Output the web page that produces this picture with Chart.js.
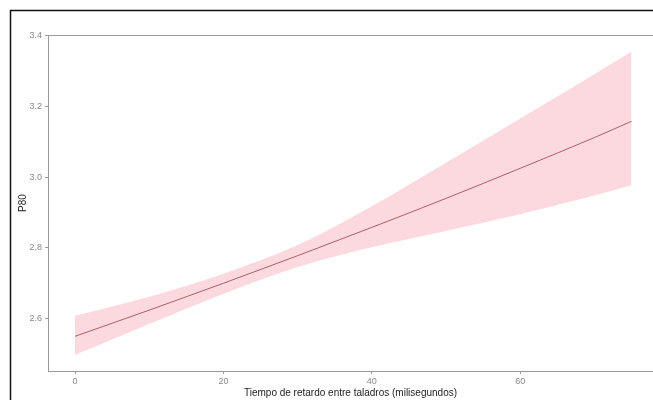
<!DOCTYPE html>
<html>
<head>
<meta charset="utf-8">
<script src="https://cdn.jsdelivr.net/npm/chart.js@4.4.1/dist/chart.umd.min.js"></script>
<style>
  html, body { margin: 0; padding: 0; background: #fff; overflow: hidden; }
  #wrap { position: relative; width: 653px; height: 400px; }
</style>
</head>
<body>
<div id="wrap"><canvas id="p80Chart" width="653" height="400"></canvas></div>
<script>
// valores
const retardo = [0, 10, 20, 30, 40, 50, 60, 70, 75];
const p80Ajuste = [2.550, 2.624, 2.700, 2.778, 2.858, 2.940, 3.025, 3.112, 3.158];
const p80Superior = [2.608, 2.662, 2.727, 2.808, 2.918, 3.041, 3.166, 3.291, 3.355];
const p80Inferior = [2.497, 2.585, 2.670, 2.746, 2.802, 2.848, 2.895, 2.948, 2.977];
const ticksX = [0, 20, 40, 60];
const ticksY = [2.6, 2.8, 3.0, 3.2, 3.4];

const puntos = (ys) => retardo.map((x, i) => ({ x: x, y: ys[i] }));

// marco negro exterior (como la captura original)
const marco = {
    id: 'marco',
    afterDraw(chart) {
        const c = chart.ctx;
        c.save();
        c.strokeStyle = '#111';
        c.lineWidth = 1.5;
        c.beginPath();
        c.moveTo(10.5, 400);
        c.lineTo(10.5, 10.5);
        c.lineTo(653, 10.5);
        c.stroke();
        c.restore();
    }
};

const gris = '#9a9a9a';

new Chart(document.getElementById('p80Chart'), {
    type: 'line',
    data: {
        datasets: [
            {
                label: 'inferior',
                data: puntos(p80Inferior),
                borderWidth: 0,
                pointRadius: 0,
                cubicInterpolationMode: 'monotone',
                fill: false
            },
            {
                label: 'superior',
                data: puntos(p80Superior),
                borderWidth: 0,
                pointRadius: 0,
                cubicInterpolationMode: 'monotone',
                backgroundColor: 'rgba(245, 160, 175, 0.4)',
                fill: '-1'
            },
            {
                label: 'P80',
                data: puntos(p80Ajuste),
                borderColor: '#803538',
                borderWidth: 1,
                pointRadius: 0,
                cubicInterpolationMode: 'monotone',
                fill: false
            }
        ]
    },
    options: {
        responsive: false,
        animation: false,
        devicePixelRatio: 1,
        layout: { padding: 0 },
        plugins: {
            legend: { display: false },
            tooltip: { enabled: false }
        },
        scales: {
            x: {
                type: 'linear',
                position: 'bottom',
                min: -3.64,
                max: 77.9,
                afterBuildTicks: (axis) => { axis.ticks = ticksX.map(v => ({ value: v })); },
                afterFit: (axis) => { axis.height = 29; },
                grid: { drawOnChartArea: false, drawTicks: true, tickLength: 3, color: gris },
                border: { display: true, color: gris, width: 1 },
                ticks: { color: '#888', font: { family: 'Liberation Sans', size: 9 }, padding: 2, maxRotation: 0 },
                title: {
                    display: true,
                    text: 'Tiempo de retardo entre taladros (milisegundos)',
                    color: '#222',
                    font: { family: 'Liberation Sans', size: 10 },
                    padding: { top: 0, bottom: 1 }
                }
            },
            xTop: {
                type: 'linear',
                position: 'top',
                min: -3.64,
                max: 77.9,
                afterFit: (axis) => { axis.height = 35; },
                grid: { display: false },
                border: { display: true, color: gris, width: 1 },
                ticks: { display: false }
            },
            y: {
                type: 'linear',
                min: 2.452,
                max: 3.402,
                afterBuildTicks: (axis) => { axis.ticks = ticksY.map(v => ({ value: v })); },
                afterFit: (axis) => { axis.width = 48; },
                grid: { drawOnChartArea: false, drawTicks: true, tickLength: 3, color: gris },
                border: { display: true, color: gris, width: 1 },
                ticks: {
                    color: '#888',
                    font: { family: 'Liberation Sans', size: 9 },
                    padding: 3,
                    callback: (v) => v.toFixed(1)
                },
                title: {
                    display: true,
                    text: 'P80',
                    color: '#222',
                    font: { family: 'Liberation Sans', size: 10 },
                    padding: { top: 17, bottom: 0 }
                }
            }
        }
    },
    plugins: [marco]
});
</script>
</body>
</html>
